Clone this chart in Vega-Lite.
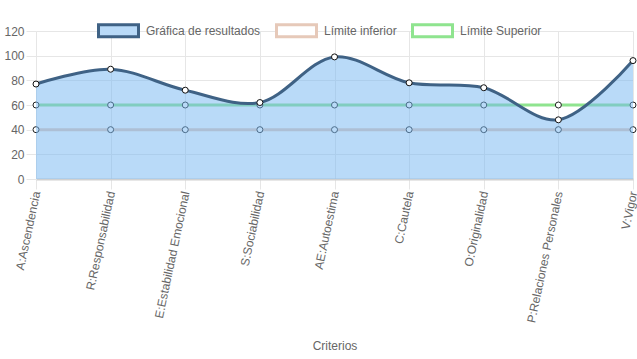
{
  "$schema": "https://vega.github.io/schema/vega-lite/v6.json",
  "width": 597,
  "height": 148,
  "autosize": {"type": "none"},
  "padding": {"left": 36, "top": 31, "right": 4, "bottom": 180},
  "config": {
    "font": "Liberation Sans",
    "view": {"stroke": null},
    "axis": {"labelColor": "#666666", "labelFontSize": 12, "titleColor": "#666666", "titleFontSize": 12, "titleFontWeight": "normal", "gridColor": "#e6e6e6", "tickColor": "#e6e6e6", "tickSize": 10}
  },
  "data": {
    "values": [
      {"criterio": "A:Ascendencia", "serie": "Gráfica de resultados", "valor": 77},
      {"criterio": "R:Responsabilidad", "serie": "Gráfica de resultados", "valor": 89},
      {"criterio": "E:Estabilidad Emocional", "serie": "Gráfica de resultados", "valor": 72},
      {"criterio": "S:Sociabilidad", "serie": "Gráfica de resultados", "valor": 62},
      {"criterio": "AE:Autoestima", "serie": "Gráfica de resultados", "valor": 99},
      {"criterio": "C:Cautela", "serie": "Gráfica de resultados", "valor": 78},
      {"criterio": "O:Originalidad", "serie": "Gráfica de resultados", "valor": 74},
      {"criterio": "P:Relaciones Personales", "serie": "Gráfica de resultados", "valor": 48},
      {"criterio": "V:Vigor", "serie": "Gráfica de resultados", "valor": 96},
      {"criterio": "A:Ascendencia", "serie": "Límite inferior", "valor": 40},
      {"criterio": "R:Responsabilidad", "serie": "Límite inferior", "valor": 40},
      {"criterio": "E:Estabilidad Emocional", "serie": "Límite inferior", "valor": 40},
      {"criterio": "S:Sociabilidad", "serie": "Límite inferior", "valor": 40},
      {"criterio": "AE:Autoestima", "serie": "Límite inferior", "valor": 40},
      {"criterio": "C:Cautela", "serie": "Límite inferior", "valor": 40},
      {"criterio": "O:Originalidad", "serie": "Límite inferior", "valor": 40},
      {"criterio": "P:Relaciones Personales", "serie": "Límite inferior", "valor": 40},
      {"criterio": "V:Vigor", "serie": "Límite inferior", "valor": 40},
      {"criterio": "A:Ascendencia", "serie": "Límite Superior", "valor": 60},
      {"criterio": "R:Responsabilidad", "serie": "Límite Superior", "valor": 60},
      {"criterio": "E:Estabilidad Emocional", "serie": "Límite Superior", "valor": 60},
      {"criterio": "S:Sociabilidad", "serie": "Límite Superior", "valor": 60},
      {"criterio": "AE:Autoestima", "serie": "Límite Superior", "valor": 60},
      {"criterio": "C:Cautela", "serie": "Límite Superior", "valor": 60},
      {"criterio": "O:Originalidad", "serie": "Límite Superior", "valor": 60},
      {"criterio": "P:Relaciones Personales", "serie": "Límite Superior", "valor": 60},
      {"criterio": "V:Vigor", "serie": "Límite Superior", "valor": 60}
    ]
  },
  "encoding": {
    "x": {
      "field": "criterio", "type": "nominal", "sort": null,
      "scale": {"type": "point", "padding": 0},
      "axis": {"title": "Criterios", "labelAngle": -78, "labelPadding": 2, "domainColor": "#d0d0d0", "domainWidth": 2, "grid": true, "titlePadding": 17}
    },
    "y": {
      "field": "valor", "type": "quantitative",
      "scale": {"domain": [0, 120], "nice": false},
      "axis": {"title": null, "values": [0, 20, 40, 60, 80, 100, 120], "labelPadding": 2, "domainColor": "#e6e6e6"}
    }
  },
  "layer": [
    {
      "transform": [{"filter": "datum.serie != 'Gráfica de resultados'"}],
      "mark": {"type": "line", "strokeWidth": 3},
      "encoding": {
        "stroke": {
          "field": "serie", "type": "nominal",
          "scale": {"domain": ["Gráfica de resultados", "Límite inferior", "Límite Superior"], "range": ["#3f6285", "#e6c9b9", "#8fe48f"]},
          "legend": {
            "title": null, "orient": "none", "direction": "horizontal", "legendX": 61, "legendY": -22,
            "symbolType": "M-1,-0.3H1V0.3H-1Z", "symbolSize": 1600, "symbolStrokeWidth": 3,
            "labelFontSize": 12, "labelColor": "#666666", "labelOffset": 6, "columnPadding": 9,
            "encode": {"symbols": {"update": {"fill": {"signal": "datum.value == 'Gráfica de resultados' ? '#b9daf8' : '#ffffff'"}, "fillOpacity": {"value": 1}, "opacity": {"value": 1}}}}
          }
        }
      }
    },
    {
      "transform": [{"filter": "datum.serie != 'Gráfica de resultados'"}],
      "mark": {"type": "point", "filled": true, "fill": "#ffffff", "stroke": "#222222", "strokeWidth": 1, "size": 36, "opacity": 1},
      "encoding": {"detail": {"field": "serie"}}
    },
    {
      "transform": [{"filter": "datum.serie == 'Gráfica de resultados'"}],
      "mark": {"type": "area", "interpolate": "catmull-rom", "color": "#73b5f1", "opacity": 0.5},
      "encoding": {}
    },
    {
      "transform": [{"filter": "datum.serie == 'Gráfica de resultados'"}],
      "mark": {"type": "line", "interpolate": "catmull-rom", "strokeWidth": 3},
      "encoding": {"stroke": {"field": "serie", "type": "nominal"}}
    },
    {
      "transform": [{"filter": "datum.serie == 'Gráfica de resultados'"}],
      "mark": {"type": "point", "filled": true, "fill": "#ffffff", "stroke": "#111111", "strokeWidth": 1, "size": 36, "opacity": 1},
      "encoding": {}
    }
  ]
}
